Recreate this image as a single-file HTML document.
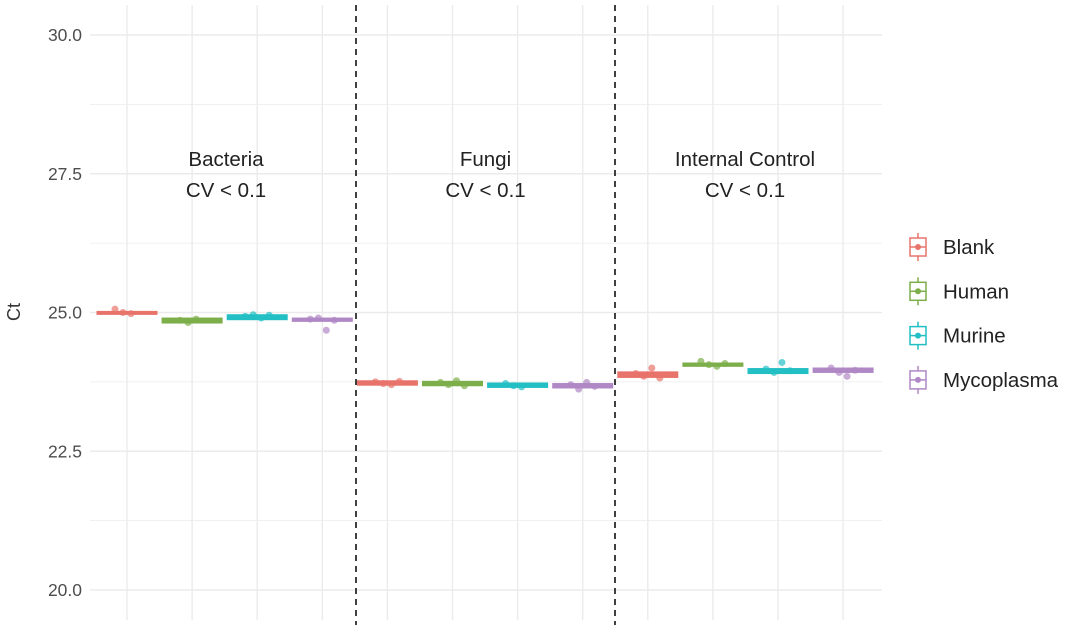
<!DOCTYPE html>
<html><head><meta charset="utf-8"><style>
body{margin:0;background:#fff;font-family:"Liberation Sans",sans-serif}
</style></head><body>
<svg id="c" width="1080" height="631" xmlns="http://www.w3.org/2000/svg"></svg>
<script>
const groups=["Bacteria","Fungi","Internal Control"];
const samples=["Blank","Human","Murine","Mycoplasma"];
const colors=["#E8736B","#7CAE4A","#22BFC4","#B088C5"];
const yTicks=[20.0,22.5,25.0,27.5,30.0];
const medians=[25.00,24.86,24.92,24.87, 23.73,23.72,23.69,23.68, 23.88,24.06,23.95,23.96];
const q1s=[24.98,24.81,24.87,24.84, 23.69,23.68,23.65,23.64, 23.83,24.03,23.90,23.92];
const q3s=[25.02,24.90,24.96,24.90, 23.77,23.76,23.73,23.72, 23.93,24.09,23.99,24.00];
const pts=[[25.06,25.0,24.98],[24.86,24.82,24.88],[24.93,24.96,24.9,24.95],[24.88,24.9,24.68,24.86],
[23.75,23.72,23.7,23.76],[23.74,23.7,23.77,23.68],[23.72,23.68,23.66],[23.7,23.62,23.74,23.67],
[23.9,23.85,24.0,23.82],[24.12,24.06,24.03,24.08],[23.98,23.92,24.1,23.95],[24.0,23.92,23.85,23.96]];
const svg=document.getElementById('c');const NS="http://www.w3.org/2000/svg";
function el(t,a,p){const e=document.createElementNS(NS,t);for(const k in a)e.setAttribute(k,a[k]);(p||svg).appendChild(e);return e;}
const y=v=>590-(v-20)*55.5;
const x=i=>127+i*65.1;
for(let v=20;v<=30.01;v+=1.25){const g=el('line',{x1:90,x2:882,y1:y(v),y2:y(v),stroke:'#ebebeb','stroke-width':Math.abs(v%2.5)<0.01?1.4:0.7});
}
for(let i=0;i<12;i++){const g=el('line',{x1:x(i),x2:x(i),y1:5,y2:620,stroke:'#ebebeb','stroke-width':1.4});
}
yTicks.forEach(v=>{const t=el('text',{x:82,y:y(v)+6,'text-anchor':'end','font-size':17.5,fill:'#4d4d4d'});t.textContent=v.toFixed(1);
});
const yt=el('text',{x:20,y:312,'font-size':18,fill:'#333','text-anchor':'middle',transform:'rotate(-90 20 312)'});yt.textContent='Ct';

for(let i=0;i<12;i++){const c=colors[i%4];const g=el('g',{});


const top=y(q3s[i]),bot=y(q1s[i]);
el('rect',{x:x(i)-30,y:top,width:60,height:Math.max(bot-top,3),fill:c,stroke:c,'stroke-width':1},g);
el('line',{x1:x(i)-30,x2:x(i)+30,y1:y(medians[i]),y2:y(medians[i]),stroke:c,'stroke-width':2},g);
pts[i].forEach((v,j)=>{el('circle',{cx:x(i)+(j-1.5)*8,cy:y(v),r:3.5,fill:c,opacity:0.7},g);});}
[356,615].forEach(xx=>{const l=el('line',{x1:xx,x2:xx,y1:5,y2:625,stroke:'#111','stroke-width':1.6,'stroke-dasharray':'6,5'});
});
groups.forEach((g,k)=>{const cx=226+k*259.5;
const t1=el('text',{x:cx,y:166,'text-anchor':'middle','font-size':20.5,fill:'#222'});t1.textContent=g;

const t2=el('text',{x:cx,y:197,'text-anchor':'middle','font-size':20.5,fill:'#222'});t2.textContent='CV < 0.1';
});
samples.forEach((s,k)=>{const cy=247+k*44.3;const c=colors[k];const g=el('g',{});

el('line',{x1:918,x2:918,y1:cy-14,y2:cy+14,stroke:c,'stroke-width':1.5},g);
el('rect',{x:910,y:cy-9,width:16,height:18,fill:'#fff',stroke:c,'stroke-width':1.5},g);
el('line',{x1:910,x2:926,y1:cy,y2:cy,stroke:c,'stroke-width':1.5},g);
el('circle',{cx:918,cy:cy,r:3,fill:c},g);
const t=el('text',{x:943,y:cy+7,'font-size':20.5,fill:'#222'},g);t.textContent=s;});
</script>
</body></html>
